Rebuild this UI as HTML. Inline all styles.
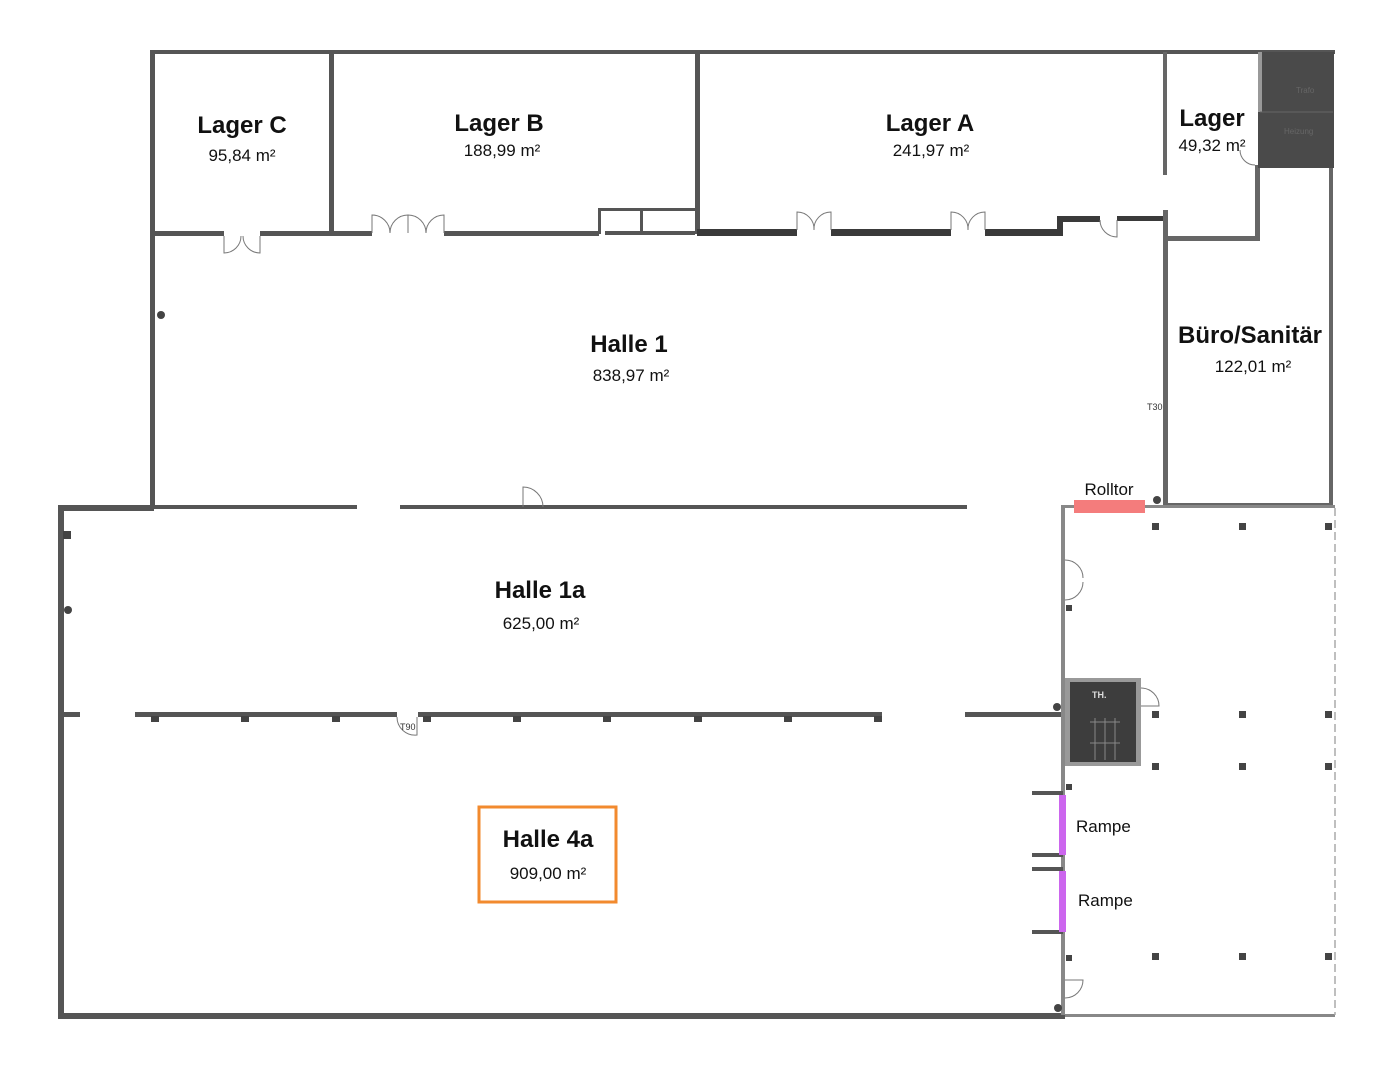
<!DOCTYPE html>
<html><head><meta charset="utf-8"><style>
html,body{margin:0;padding:0;background:#fff;}
svg{display:block;}
text{font-family:"Liberation Sans",sans-serif;fill:#111;}
.t{font-size:24px;font-weight:bold;}
.a{font-size:17px;}
</style></head><body>
<svg width="1396" height="1080" viewBox="0 0 1396 1080" xmlns="http://www.w3.org/2000/svg">
<g fill="#555">
<!-- top wall -->
<rect x="150" y="50" width="1185" height="4"/>
<rect x="150" y="50" width="5" height="458"/>
<rect x="329" y="52" width="5" height="183"/>
<rect x="695" y="52" width="5" height="182"/>
<!-- bottom of Lager C/B -->
<rect x="152" y="231" width="72" height="5"/>
<rect x="260" y="231" width="112" height="5"/>
<rect x="444" y="231" width="155" height="5"/>
<rect x="598" y="208" width="99" height="3"/>
<rect x="598" y="208" width="3" height="26"/>
<rect x="640" y="208" width="3" height="26"/>
<rect x="605" y="231" width="90" height="4"/>
</g>
<g fill="#3a3a3a">
<rect x="697" y="229" width="100" height="7"/>
<rect x="831" y="229" width="120" height="7"/>
<rect x="985" y="229" width="75" height="7"/>
<rect x="1057" y="216" width="6" height="20"/>
<rect x="1057" y="216" width="43" height="6"/>
<rect x="1117" y="216" width="46" height="5"/>
</g>
<g fill="#666">
<rect x="1163" y="52" width="4" height="123"/>
<rect x="1163" y="210" width="5" height="297"/>
<rect x="1165" y="236" width="95" height="5"/>
<rect x="1255" y="165" width="5" height="76"/>
<rect x="1329" y="167" width="4" height="338"/>
<rect x="1167" y="503" width="166" height="3"/>
</g>
<rect x="1258" y="52" width="76" height="116" fill="#4a4a4a"/>
<rect x="1258" y="52" width="4" height="60" fill="#999"/>
<line x1="1260" y1="112" x2="1333" y2="112" stroke="#666"/>
<text x="1296" y="93" font-size="8" fill="#666" style="fill:#666">Trafo</text>
<text x="1284" y="134" font-size="8" style="fill:#666">Heizung</text>
<!-- Halle 1 bottom -->
<g fill="#555">
<rect x="152" y="505" width="205" height="4"/>
<rect x="400" y="505" width="567" height="4"/>
<rect x="58" y="505" width="96" height="6"/>
<rect x="58" y="505" width="6" height="514"/>
<rect x="58" y="1013" width="1007" height="6"/>
<rect x="1065" y="1014" width="270" height="3" fill="#888"/>
<rect x="1061" y="505" width="4" height="510" fill="#888"/>
<rect x="1063" y="505" width="272" height="3" fill="#888"/>
</g>
<line x1="1335" y1="508" x2="1335" y2="1015" stroke="#aaa" stroke-width="1.5" stroke-dasharray="8,4"/>
<!-- partition -->
<g fill="#555">
<rect x="60" y="712" width="20" height="5"/>
<rect x="135" y="712" width="262" height="5"/>
<rect x="418" y="712" width="464" height="5"/>
<rect x="965" y="712" width="96" height="5"/>
</g>
<g fill="#444">
<rect x="151" y="716" width="8" height="6"/><rect x="241" y="716" width="8" height="6"/><rect x="332" y="716" width="8" height="6"/><rect x="423" y="716" width="8" height="6"/><rect x="513" y="716" width="8" height="6"/><rect x="603" y="716" width="8" height="6"/><rect x="694" y="716" width="8" height="6"/><rect x="784" y="716" width="8" height="6"/><rect x="874" y="716" width="8" height="6"/>
<rect x="63" y="531" width="8" height="8"/>
<circle cx="68" cy="610" r="4"/><circle cx="161" cy="315" r="4"/><circle cx="1157" cy="500" r="4"/><circle cx="1057" cy="707" r="4"/><circle cx="1058" cy="1008" r="4"/>
<!-- columns -->
<rect x="1152" y="523" width="7" height="7"/><rect x="1239" y="523" width="7" height="7"/><rect x="1325" y="523" width="7" height="7"/>
<rect x="1152" y="711" width="7" height="7"/><rect x="1239" y="711" width="7" height="7"/><rect x="1325" y="711" width="7" height="7"/>
<rect x="1152" y="763" width="7" height="7"/><rect x="1239" y="763" width="7" height="7"/><rect x="1325" y="763" width="7" height="7"/>
<rect x="1152" y="953" width="7" height="7"/><rect x="1239" y="953" width="7" height="7"/><rect x="1325" y="953" width="7" height="7"/>
<rect x="1066" y="605" width="6" height="6"/><rect x="1066" y="784" width="6" height="6"/><rect x="1066" y="955" width="6" height="6"/>
</g>
<!-- TH -->
<rect x="1065" y="678" width="76" height="88" fill="#999"/>
<rect x="1070" y="682" width="66" height="80" fill="#3d3d3d"/>
<g stroke="#888" stroke-width="1"><line x1="1090" y1="722" x2="1120" y2="722"/><line x1="1090" y1="743" x2="1120" y2="743"/><line x1="1095" y1="718" x2="1095" y2="760"/><line x1="1105" y1="718" x2="1105" y2="760"/><line x1="1115" y1="718" x2="1115" y2="760"/></g>
<text x="1092" y="698" font-size="9" font-weight="bold" style="fill:#ddd">TH.</text>
<!-- Rampen -->
<g fill="#555">
<rect x="1032" y="791" width="31" height="4"/><rect x="1032" y="853" width="31" height="4"/>
<rect x="1032" y="867" width="31" height="4"/><rect x="1032" y="930" width="31" height="4"/>
</g>
<rect x="1059" y="795" width="7" height="60" fill="#cc66ee"/>
<rect x="1059" y="871" width="7" height="61" fill="#cc66ee"/>
<!-- Rolltor -->
<rect x="1074" y="500" width="71" height="13" fill="#f47c7c"/>
<!-- doors -->
<g fill="none" stroke="#777" stroke-width="1">
<path d="M224 236 v17 a17 17 0 0 0 17 -17 M260 236 v17 a17 17 0 0 1 -17 -17"/>
<path d="M372 233 v-18 a18 18 0 0 1 18 18 M408 233 v-18 a18 18 0 0 0 -18 18"/>
<path d="M408 233 v-18 a18 18 0 0 1 18 18 M444 233 v-18 a18 18 0 0 0 -18 18"/>
<path d="M797 230 v-18 a17 17 0 0 1 17 18 M831 230 v-18 a17 17 0 0 0 -17 18"/>
<path d="M951 230 v-18 a17 17 0 0 1 17 18 M985 230 v-18 a17 17 0 0 0 -17 18"/>
<path d="M1100 220 a17 17 0 0 0 17 17 v-17"/>
<path d="M523 507 v-20 a20 20 0 0 1 20 20"/>
<path d="M397 717 a18 18 0 0 0 20 18 v-18"/>
<path d="M1065 560 a18 18 0 0 1 18 18 M1065 600 a18 18 0 0 0 18 -18"/>
<path d="M1065 998 a18 18 0 0 0 18 -18 h-18"/>
<path d="M1141 688 a18 18 0 0 1 18 18 h-18"/>
<path d="M1240 150 a15 15 0 0 0 15 15"/>
</g>
<text x="400" y="730" font-size="9" style="fill:#333">T90</text>
<text x="1147" y="410" font-size="9" style="fill:#333">T30</text>
<!-- labels -->
<text class="t" x="242" y="133" text-anchor="middle">Lager C</text>
<text class="a" x="242" y="161" text-anchor="middle">95,84 m²</text>
<text class="t" x="499" y="131" text-anchor="middle">Lager B</text>
<text class="a" x="502" y="156" text-anchor="middle">188,99 m²</text>
<text class="t" x="930" y="131" text-anchor="middle">Lager A</text>
<text class="a" x="931" y="156" text-anchor="middle">241,97 m²</text>
<text class="t" x="1212" y="126" text-anchor="middle">Lager</text>
<text class="a" x="1212" y="151" text-anchor="middle">49,32 m²</text>
<text class="t" x="1250" y="343" text-anchor="middle">Büro/Sanitär</text>
<text class="a" x="1253" y="372" text-anchor="middle">122,01 m²</text>
<text class="t" x="629" y="352" text-anchor="middle">Halle 1</text>
<text class="a" x="631" y="381" text-anchor="middle">838,97 m²</text>
<text class="t" x="540" y="598" text-anchor="middle">Halle 1a</text>
<text class="a" x="541" y="629" text-anchor="middle">625,00 m²</text>
<text class="a" x="1109" y="495" text-anchor="middle">Rolltor</text>
<text class="a" x="1076" y="832">Rampe</text>
<text class="a" x="1078" y="906">Rampe</text>
<rect x="479" y="807" width="137" height="95" fill="none" stroke="#f28a2e" stroke-width="3"/>
<text class="t" x="548" y="847" text-anchor="middle">Halle 4a</text>
<text class="a" x="548" y="879" text-anchor="middle">909,00 m²</text>
</svg>
</body></html>
